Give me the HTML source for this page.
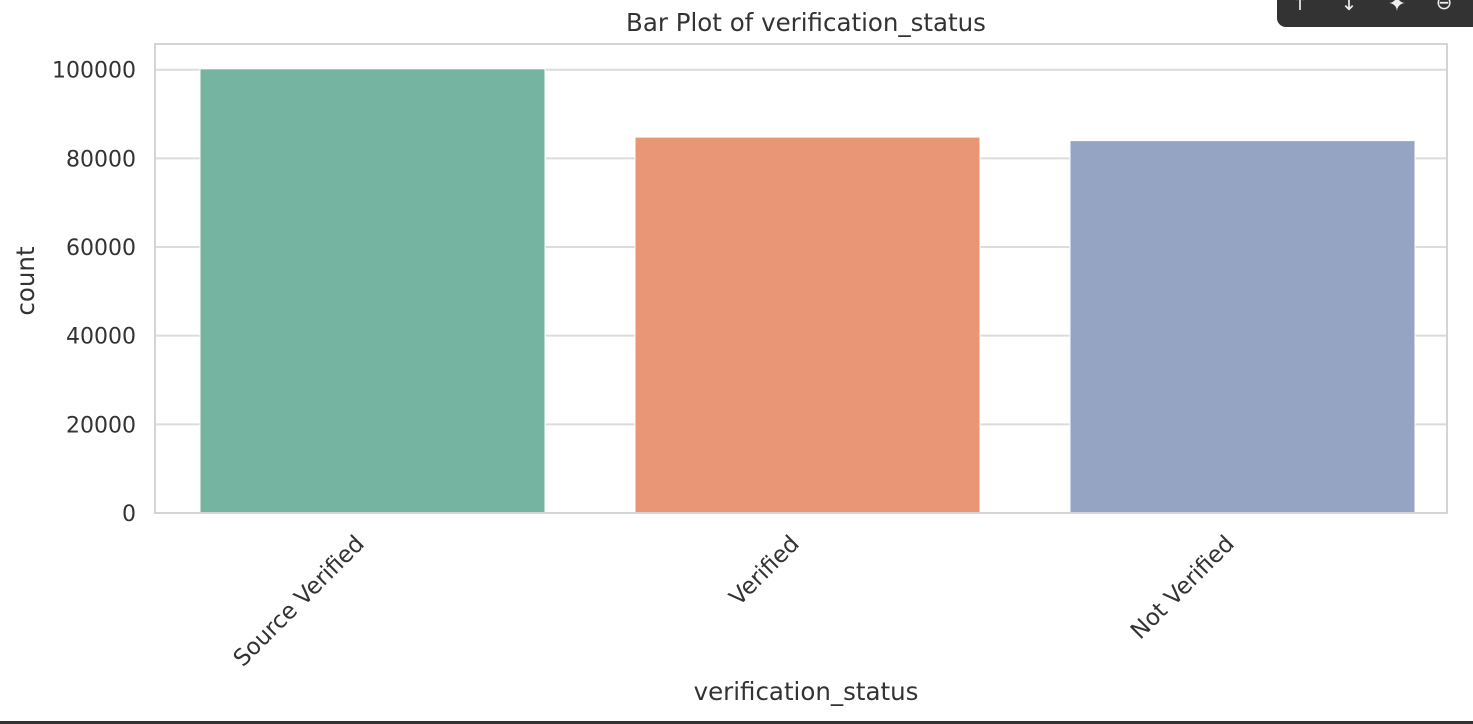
<!DOCTYPE html>
<html><head><meta charset="utf-8"><style>
html,body{margin:0;padding:0;background:#fff;width:1473px;height:724px;overflow:hidden}
svg text{font-family:"DejaVu Sans","Liberation Sans",sans-serif;fill:#333}
</style></head><body>
<svg id="chart" width="1473" height="724" xmlns="http://www.w3.org/2000/svg">
<g id="grid"></g>
<g id="bars"></g>
<rect x="155" y="44" width="1292" height="469" fill="none" stroke="#d4d4d4" stroke-width="2"/>
<g id="yticks"></g>
<g id="xticks"></g>
<text x="806" y="31" font-size="24.5" text-anchor="middle">Bar Plot of verification_status</text>
<text transform="translate(34,281) rotate(-90)" font-size="24.5" text-anchor="middle">count</text>
<text x="806" y="700" font-size="24.5" text-anchor="middle">verification_status</text>
<g>
<rect x="1277" y="-10" width="206" height="37" rx="9" fill="#333"/>
<text x="1300" y="10" font-size="20" style="fill:#eee" text-anchor="middle">↑</text>
<text x="1349" y="10" font-size="20" style="fill:#eee" text-anchor="middle">↓</text>
<text x="1397" y="11" font-size="22" style="fill:#eee" text-anchor="middle">✦</text>
<text x="1444" y="9" font-size="20" style="fill:#eee" text-anchor="middle">⊖</text>
</g>
<rect x="0" y="721" width="1473" height="3" fill="#333"/>
</svg>
<script>
const categories=["Source Verified","Verified","Not Verified"];
const counts=[100200,84800,84000];
const colors=["#74b4a0","#e89676","#95a4c3"];
const yTicks=[0,20000,40000,60000,80000,100000];
const L=155,R=1447,B=513,T=44,yMax=105800;
const NS="http://www.w3.org/2000/svg";
function y(v){return B-(v/yMax)*(B-T);}
const bw=435;
function xc(i){return L+bw*(i+0.5);}
function mk(t,a,p){const e=document.createElementNS(NS,t);for(const k in a)e.setAttribute(k,a[k]);p.appendChild(e);return e;}
const grid=document.getElementById('grid'),bars=document.getElementById('bars'),yt=document.getElementById('yticks'),xt=document.getElementById('xticks');
yTicks.forEach(v=>{
 const l=mk('line',{x1:L,x2:R,y1:y(v),y2:y(v),stroke:'#dcdcdc','stroke-width':2},grid);
 
 
 const t=mk('text',{x:136,y:y(v)+8,'font-size':22,'text-anchor':'end'},yt);
 t.textContent=v;
 
 
});
categories.forEach((c,i)=>{
 const w=345;
 const r=mk('rect',{x:xc(i)-w/2,y:y(counts[i]),width:w,height:B-y(counts[i]),fill:colors[i],stroke:'#fff','stroke-width':1},bars);
 
 
 const t=mk('text',{transform:`translate(${xc(i)-7},${B+32}) rotate(-45)`,'font-size':23,'text-anchor':'end'},xt);
 t.textContent=c;
 
 
});
</script>
</body></html>
